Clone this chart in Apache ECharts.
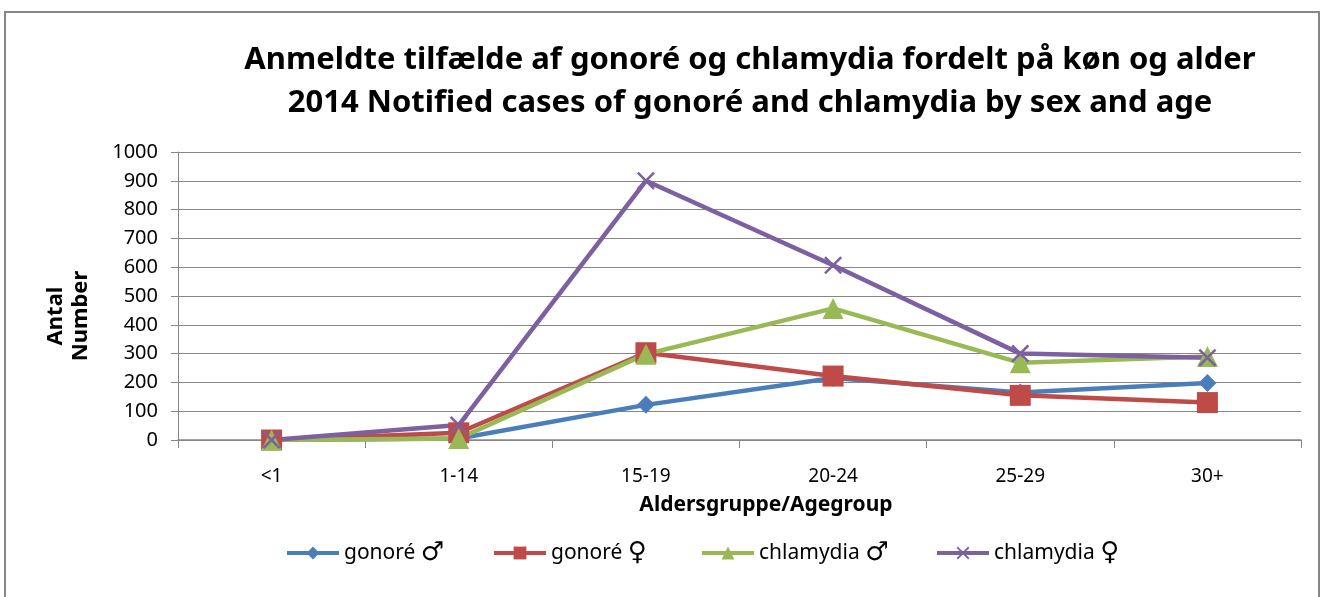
<!DOCTYPE html>
<html>
<head>
<meta charset="utf-8">
<script src="https://cdn.jsdelivr.net/npm/echarts@6/dist/echarts.min.js"></script>
<style>
  html, body { margin: 0; padding: 0; background: #fff; }
  #chart { width: 1326px; height: 597px; }
</style>
</head>
<body>
<div id="chart"></div>
<script>
const ageGroups = ['<1', '1-14', '15-19', '20-24', '25-29', '30+'];
const seriesNames = ['gonoré ♂', 'gonoré ♀', 'chlamydia ♂', 'chlamydia ♀'];
const gonoreMale = [0, 5, 122, 215, 165, 198];
const gonoreFemale = [0, 25, 303, 222, 155, 130];
const chlamydiaMale = [0, 5, 298, 457, 268, 290];
const chlamydiaFemale = [0, 52, 900, 607, 300, 286];

const FONT = "'Noto Sans', sans-serif";
const crossPath = 'path://M0,1L1,0L5,4L9,0L10,1L6,5L10,9L9,10L5,6L1,10L0,9L4,5Z';
const legendLeft = [280, 487, 695, 930];

const mk = (name, data, color, symbol, size) => ({
  name,
  type: 'line',
  data,
  symbol,
  symbolSize: size,
  showSymbol: true,
  lineStyle: { width: 4.5, color },
  itemStyle: { color },
  emphasis: { disabled: true },
  z: 2
});

// Excel-style legend with fixed columns: one legend per entry
const legends = seriesNames.map((name, i) => ({
  top: 535,
  left: legendLeft[i],
  itemWidth: 52,
  itemHeight: 16,
  itemGap: 0,
  lineStyle: { width: 4 },
  textStyle: {
    fontSize: 21, color: '#000', fontFamily: FONT,
    rich: {
      n: { fontSize: 21, fontFamily: FONT, color: '#000' },
      s: { fontSize: 26, fontFamily: "'DejaVu Sans', sans-serif", color: '#000' }
    }
  },
  formatter: n => {
    const k = n.lastIndexOf(' ');
    return '{n|' + n.slice(0, k + 1) + '}{s|' + n.slice(k + 1) + '}';
  },
  data: [name]
}));

const chart = echarts.init(document.getElementById('chart'));
chart.setOption({
  animation: false,
  textStyle: { fontFamily: FONT },
  grid: { left: 178, right: 25, top: 152, bottom: 157 },
  legend: legends,
  xAxis: {
    type: 'category',
    data: ageGroups,
    boundaryGap: true,
    axisLine: { lineStyle: { color: '#868686', width: 1.5 } },
    axisTick: { show: true, length: 8, inside: false, lineStyle: { color: '#868686' } },
    axisLabel: { fontSize: 19, color: '#000', margin: 27 },
    splitLine: { show: false }
  },
  yAxis: {
    type: 'value',
    min: 0,
    max: 1000,
    interval: 100,
    axisLine: { show: true, lineStyle: { color: '#868686' } },
    axisTick: { show: true, length: 7, lineStyle: { color: '#868686' } },
    axisLabel: { fontSize: 20, color: '#000', margin: 20, formatter: v => String(v) },
    splitLine: { lineStyle: { color: '#868686', width: 1.2 } }
  },
  graphic: [
    {
      type: 'rect',
      shape: { x: 5, y: 12, width: 1314, height: 600 },
      style: { fill: 'none', stroke: '#868686', lineWidth: 2 },
      z: -1
    },
    {
      type: 'text',
      x: 750,
      y: 60,
      style: {
        text: 'Anmeldte tilfælde af gonoré og chlamydia fordelt på køn og alder',
        font: "bold 31px 'Noto Sans', sans-serif",
        fill: '#000',
        align: 'center',
        verticalAlign: 'middle'
      }
    },
    {
      type: 'text',
      x: 750,
      y: 103,
      style: {
        text: '2014 Notified cases of gonoré and chlamydia by sex and age',
        font: "bold 31px 'Noto Sans', sans-serif",
        fill: '#000',
        align: 'center',
        verticalAlign: 'middle'
      }
    },
    {
      type: 'text',
      x: 766,
      y: 505,
      style: {
        text: 'Aldersgruppe/Agegroup',
        font: "bold 21px 'Noto Sans', sans-serif",
        fill: '#000',
        align: 'center',
        verticalAlign: 'middle'
      }
    },
    {
      type: 'text',
      x: 68,
      y: 316,
      rotation: Math.PI / 2,
      style: {
        text: 'Antal\nNumber',
        font: "bold 22px 'Noto Sans', sans-serif",
        fill: '#000',
        align: 'center',
        verticalAlign: 'middle',
        lineHeight: 25
      }
    }
  ],
  series: [
    mk(seriesNames[0], gonoreMale, '#4A7EBB', 'diamond', 18),
    mk(seriesNames[1], gonoreFemale, '#BE4B48', 'rect', 21),
    mk(seriesNames[2], chlamydiaMale, '#98B954', 'triangle', 21),
    mk(seriesNames[3], chlamydiaFemale, '#7D60A0', crossPath, 18)
  ]
});
</script>
</body>
</html>
